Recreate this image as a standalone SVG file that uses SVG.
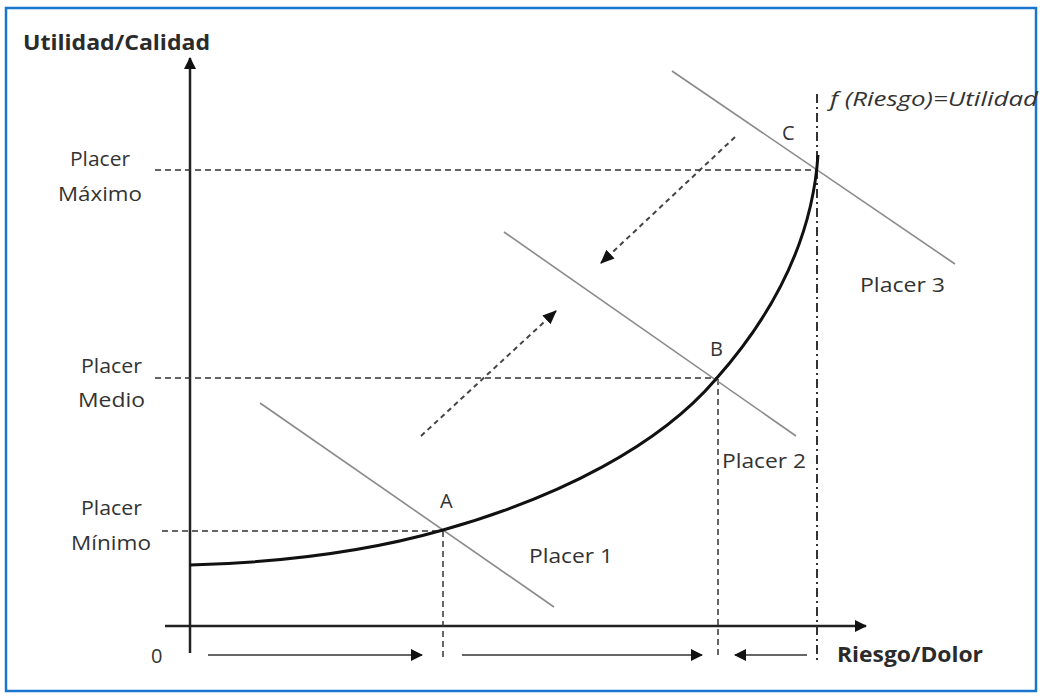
<svg xmlns="http://www.w3.org/2000/svg" width="1042" height="698" viewBox="0 0 1042 698">
<defs>
<style>
.lbl{font-family:"Open Sans","Liberation Sans",sans-serif;fill:#333;font-size:20px}
.bold{font-weight:bold;font-size:22px;fill:#2b2b2b}
.axis{stroke:#222;stroke-width:2.5;fill:none}
.guide{stroke:#333;stroke-width:1.5;stroke-dasharray:6,4;fill:none}
.placer{stroke:#8a8a8a;stroke-width:1.6;fill:none}
.flow{stroke:#333;stroke-width:1.6;fill:none}
.dflow{stroke:#444;stroke-width:2;stroke-dasharray:5,4;fill:none}
</style>
<marker id="ah" viewBox="0 0 12 12" refX="11" refY="6" markerWidth="12" markerHeight="12" markerUnits="userSpaceOnUse" orient="auto">
<path d="M0,0 L12,6 L0,12 Z" fill="#111"/>
</marker>
<marker id="ahs" viewBox="0 0 14 12" refX="13" refY="6" markerWidth="14" markerHeight="12" markerUnits="userSpaceOnUse" orient="auto">
<path d="M0,0 L14,6 L0,12 Z" fill="#111"/>
</marker>
</defs>
<rect x="6" y="8" width="1030" height="683" fill="#fff" stroke="#1a76cc" stroke-width="2.5"/>

<g id="connectors">
<line class="axis" x1="190" y1="653" x2="190" y2="58" marker-end="url(#ah)"/>
<line class="axis" x1="165" y1="626" x2="866" y2="626" marker-end="url(#ah)"/>
<line class="guide" x1="155" y1="170" x2="818" y2="170"/>
<line class="guide" x1="155" y1="378" x2="716" y2="378"/>
<line class="guide" x1="162" y1="531" x2="443" y2="531"/>
<line class="guide" x1="443" y1="531" x2="443" y2="658"/>
<line class="guide" x1="718" y1="379" x2="718" y2="658"/>
<line x1="817" y1="94" x2="817" y2="660" stroke="#333" stroke-width="2" stroke-dasharray="9,4,2,4"/>
<line class="placer" x1="672" y1="71" x2="955" y2="264"/>
<line class="placer" x1="504" y1="232" x2="796" y2="436"/>
<line class="placer" x1="260" y1="403" x2="554" y2="607"/>
<path d="M190,565 C300,562 380,548 443,530 C560,497 660,445 716,379 C770,318 812,245 818,155" fill="none" stroke="#111" stroke-width="3"/>
<line class="dflow" x1="421" y1="436" x2="556" y2="311" marker-end="url(#ahs)"/>
<line class="dflow" x1="735" y1="137" x2="601" y2="263" marker-end="url(#ahs)"/>
<line class="flow" x1="208" y1="655" x2="422" y2="655" marker-end="url(#ah)"/>
<line class="flow" x1="462" y1="655" x2="702" y2="655" marker-end="url(#ah)"/>
<line class="flow" x1="807" y1="655" x2="735" y2="655" marker-end="url(#ah)"/>
</g>

<g id="axis-labels">
<text class="lbl bold" x="23" y="50" textLength="187" lengthAdjust="spacingAndGlyphs">Utilidad/Calidad</text>
<text class="lbl bold" x="837" y="662" textLength="146" lengthAdjust="spacingAndGlyphs">Riesgo/Dolor</text>
<text class="lbl" x="151" y="663" font-size="21">0</text>
<text class="lbl" x="830" y="106" font-style="italic" font-size="21" textLength="208" lengthAdjust="spacingAndGlyphs">f (Riesgo)=Utilidad</text>
</g>

<g id="node-max">
<text class="lbl" x="70" y="166" textLength="60" lengthAdjust="spacingAndGlyphs">Placer</text>
<text class="lbl" x="58" y="201" textLength="84" lengthAdjust="spacingAndGlyphs">Máximo</text>
</g>
<g id="node-medio">
<text class="lbl" x="81" y="373" textLength="61" lengthAdjust="spacingAndGlyphs">Placer</text>
<text class="lbl" x="78" y="407" textLength="67" lengthAdjust="spacingAndGlyphs">Medio</text>
</g>
<g id="node-min">
<text class="lbl" x="81" y="515" textLength="61" lengthAdjust="spacingAndGlyphs">Placer</text>
<text class="lbl" x="71" y="550" textLength="80" lengthAdjust="spacingAndGlyphs">Mínimo</text>
</g>

<g id="point-A"><text class="lbl" x="440" y="508">A</text></g>
<g id="point-B"><text class="lbl" x="710" y="356">B</text></g>
<g id="point-C"><text class="lbl" x="782" y="140">C</text></g>

<g id="placer-1"><text class="lbl" x="529" y="563" textLength="84" lengthAdjust="spacingAndGlyphs">Placer 1</text></g>
<g id="placer-2"><text class="lbl" x="722" y="468" textLength="84" lengthAdjust="spacingAndGlyphs">Placer 2</text></g>
<g id="placer-3"><text class="lbl" x="860" y="292" textLength="85" lengthAdjust="spacingAndGlyphs">Placer 3</text></g>
</svg>
